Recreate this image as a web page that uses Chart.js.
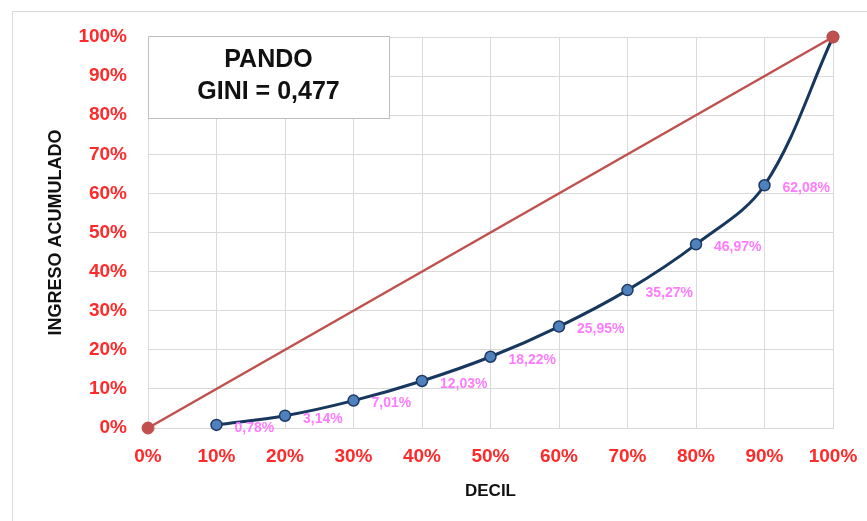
<!DOCTYPE html>
<html>
<head>
<meta charset="utf-8">
<script src="https://cdn.jsdelivr.net/npm/chart.js@4/dist/chart.umd.min.js"></script>
<style>
  html, body { margin:0; padding:0; background:#fff; }
  #wrap { width:867px; height:521px; }
</style>
</head>
<body>
<div id="wrap"><canvas id="lorenz" width="867" height="521"></canvas></div>
<script>
// Data
const deciles   = [10, 20, 30, 40, 50, 60, 70, 80, 90, 100];
const ingreso   = [0.78, 3.14, 7.01, 12.03, 18.22, 25.95, 35.27, 46.97, 62.08, 100];
const equalX    = [0, 100];
const equalY    = [0, 100];
const boxTitle  = ['PANDO', 'GINI = 0,477'];
const FONT = '"Liberation Sans", Arial, sans-serif';

// outer frame + title box
const decor = {
    id: 'decor',
    beforeDraw(chart) {
        const ctx = chart.ctx;
        ctx.save();
        ctx.strokeStyle = '#D9D9D9';
        ctx.lineWidth = 1;
        ctx.strokeRect(12.5, 11.5, 900, 600);
        ctx.restore();
    },
    afterDraw(chart) {
        const ctx = chart.ctx, a = chart.chartArea;
        const x = a.left, y = a.top - 1, w = 241, h = 82;
        ctx.save();
        ctx.fillStyle = '#fff';
        ctx.fillRect(x, y, w, h);
        ctx.strokeStyle = '#BFBFBF';
        ctx.lineWidth = 1;
        ctx.strokeRect(x + 0.5, y + 0.5, w, h);
        ctx.fillStyle = '#111';
        ctx.font = 'bold 25px ' + FONT;
        ctx.textAlign = 'center';
        ctx.textBaseline = 'middle';
        ctx.fillText(boxTitle[0], x + w / 2, y + 24);
        ctx.fillText(boxTitle[1], x + w / 2, y + 56);
        ctx.restore();
    }
};

// pink value labels next to points
const valueLabels = {
    id: 'valueLabels',
    afterDatasetsDraw(chart) {
        const ctx = chart.ctx;
        const meta = chart.getDatasetMeta(1);
        ctx.save();
        ctx.fillStyle = '#FF7CFF';
        ctx.font = 'bold 14px ' + FONT;
        ctx.textAlign = 'left';
        ctx.textBaseline = 'middle';
        meta.data.forEach((pt, i) => {
            if (ingreso[i] >= 100) return;
            ctx.fillText(ingreso[i].toFixed(2).replace('.', ',') + '%', pt.x + 18, pt.y + 3);
        });
        ctx.restore();
    }
};

new Chart(document.getElementById('lorenz'), {
    type: 'line',
    data: {
        datasets: [
            {
                label: 'Igualdad',
                data: equalX.map((x, i) => ({ x: x, y: equalY[i] })),
                borderColor: '#C0504D', backgroundColor: '#C0504D',
                borderWidth: 2.5, pointRadius: 6, pointBorderWidth: 1,
                pointBorderColor: '#C0504D', tension: 0, clip: false
            },
            {
                label: 'Lorenz',
                data: deciles.map((x, i) => ({ x: x, y: ingreso[i] })),
                borderColor: '#17375E', backgroundColor: '#4F81BD',
                borderWidth: 3, pointRadius: 5.5, pointBorderWidth: 1.5,
                pointBorderColor: '#1F3864', tension: 0.35, clip: false
            }
        ]
    },
    options: {
        responsive: false,
        animation: false,
        layout: { padding: { top: 37, right: 34, bottom: 0, left: 0 } },
        plugins: { legend: { display: false }, tooltip: { enabled: false } },
        scales: {
            x: {
                type: 'linear', min: 0, max: 100,
                grid: { color: '#D9D9D9', drawTicks: false },
                border: { color: '#D9D9D9' },
                ticks: {
                    stepSize: 10, padding: 17, color: '#FF2A2A',
                    font: { family: FONT, size: 19, weight: 'bold' },
                    callback: v => v + '%'
                },
                title: {
                    display: true, text: 'DECIL', color: '#111',
                    font: { family: FONT, size: 17, weight: 'bold' },
                    padding: { top: 0, bottom: 19 }
                },
                afterFit: s => { s.height = 93; s.paddingLeft = 0; s.paddingRight = 0; }
            },
            y: {
                min: 0, max: 100,
                grid: { color: '#D9D9D9', drawTicks: false },
                border: { color: '#D9D9D9' },
                ticks: {
                    stepSize: 10, padding: 21, color: '#FF2A2A',
                    font: { family: FONT, size: 19, weight: 'bold' },
                    callback: v => v + '%'
                },
                title: {
                    display: true, text: 'INGRESO ACUMULADO', color: '#111',
                    font: { family: FONT, size: 18, weight: 'bold' },
                    padding: { top: 45, bottom: 0 }
                },
                afterFit: s => { s.width = 148; s.paddingTop = 0; s.paddingBottom = 0; }
            }
        }
    },
    plugins: [decor, valueLabels]
});
</script>
</body>
</html>
